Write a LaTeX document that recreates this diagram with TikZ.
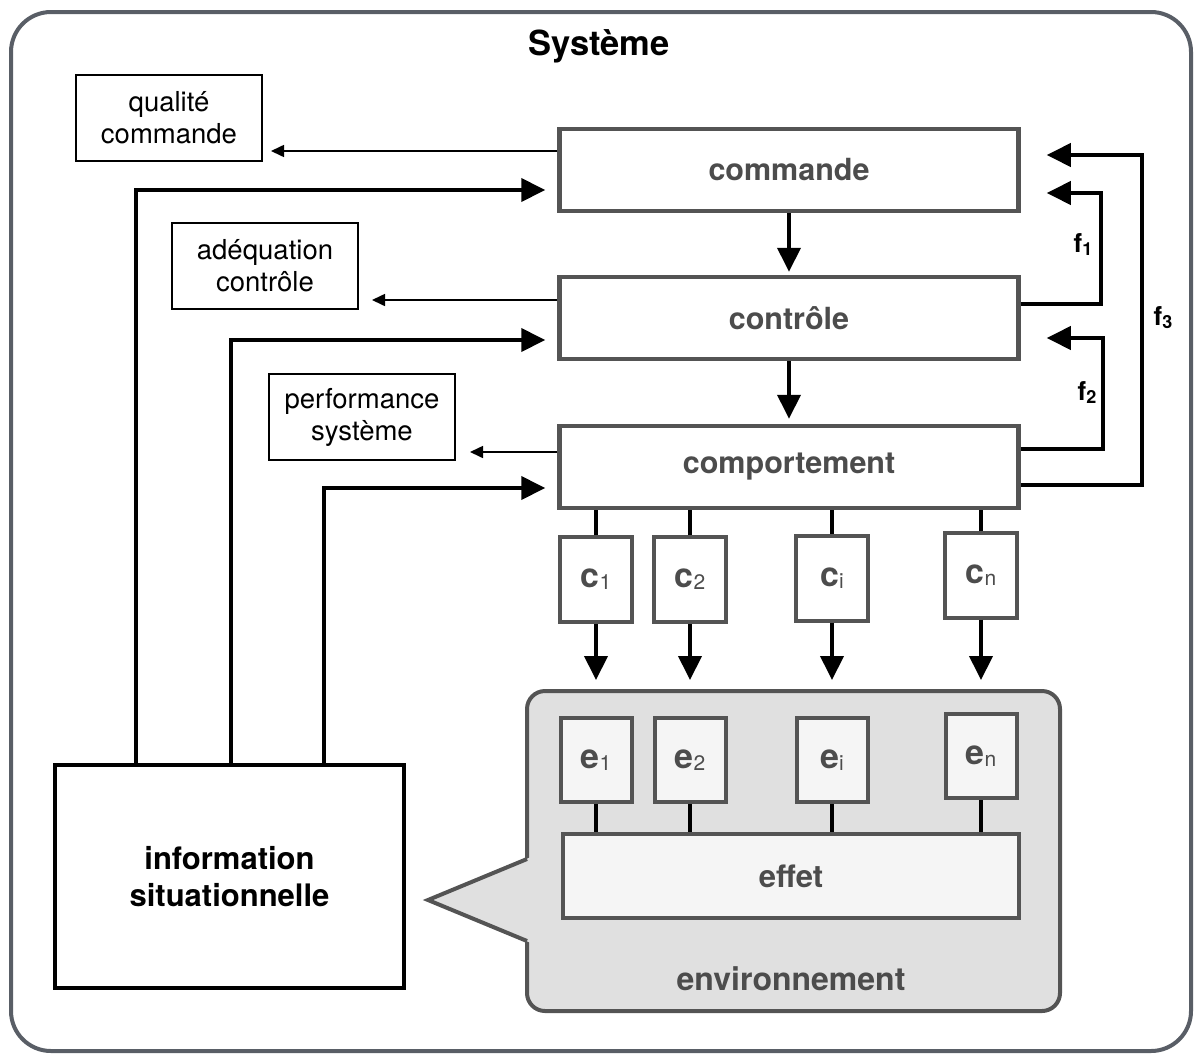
\documentclass[tikz,border=0pt]{standalone}
\usepackage{fontspec}
\setmainfont{TeX Gyre Heros}
\usepackage{tikz}
\usetikzlibrary{arrows.meta}
\definecolor{zzzzzz}{rgb}{0.33,0.33,0.33}
\definecolor{tftftf}{rgb}{0.30,0.30,0.30}
\definecolor{gqgqgq}{rgb}{0.88,0.88,0.88}
\definecolor{hzhzhz}{rgb}{0.96,0.96,0.96}
\definecolor{zazhuu}{rgb}{0.35,0.37,0.40}
\newcommand{\fsz}[1]{\fontsize{#1}{#1}\selectfont}
\newcommand{\idx}[1]{\raisebox{-2pt}{\fsz{21}\mdseries #1}}
\newcommand{\fidx}[1]{\raisebox{-3pt}{\fsz{18}\bfseries #1}}

\begin{document}
\begin{tikzpicture}[line cap=butt,line join=miter,x=1pt,y=-1pt,
  bigbox/.style={draw=zzzzzz,line width=4.5pt,fill=white,minimum width=459pt,minimum height=82pt,inner sep=0pt,text=tftftf,font=\fsz{30.5}\bfseries},
  smallbox/.style={draw=zzzzzz,line width=4pt,minimum width=71pt,minimum height=84pt,inner sep=0pt,text=tftftf,font=\fsz{34}\bfseries},
  notebox/.style={draw=black,line width=2pt,minimum width=186pt,minimum height=86pt,inner sep=0pt,align=center,font=\fontsize{27.5}{32}\selectfont},
  flabel/.style={font=\fsz{26}\bfseries},
  thickarr/.style={line width=4pt,-{Triangle[length=24pt,width=23pt]}},
  thinarr/.style={line width=1.6pt,-{Triangle[length=13pt,width=12pt]}},
  thickline/.style={line width=4pt}]

\useasboundingbox (0,0) rectangle (1198,1055);
\draw[zazhuu,line width=4pt,rounded corners=40pt] (11,12) rectangle (1191,1051);
\node[font=\fsz{34.5}\bfseries] (sys) at (599,46) {Système};

\node[bigbox] (cmd) at (789,170) {commande};
\node[bigbox] (ctl) at (789,318) {contrôle};
\node[bigbox] (cmp) at (789,467) {comportement};

\node[notebox] (qc) at (169,118) {qualité\\commande};
\node[notebox] (ac) at (265,266) {adéquation\\contrôle};
\node[notebox] (ps) at (362,417) {performance\\système};

\node[draw,line width=4.5pt,minimum width=349pt,minimum height=223pt,inner sep=0pt,align=center,font=\fontsize{31}{37}\selectfont\bfseries] (info) at (229.5,876.5) {information\\situationnelle};

\draw[draw=zzzzzz,fill=gqgqgq,line width=4pt,rounded corners=18pt] (527,691) coordinate (envnw) rectangle (1060,1011);
\fill[gqgqgq] (531,857) -- (428,900) -- (531,943) -- cycle;
\draw[zzzzzz,line width=4pt] (527,859) -- (428,900) -- (527,941);
\node[font=\fsz{32}\bfseries,text=tftftf] (envlbl) at (791,979) {environnement};

\node[smallbox,fill=white,minimum width=72pt,minimum height=85pt] (c1) at (596,579.5) {c\idx{1}};
\node[smallbox,fill=white,minimum width=72pt,minimum height=85pt] (c2) at (690,579.5) {c\idx{2}};
\node[smallbox,fill=white,minimum width=72pt,minimum height=85pt] (ci) at (832,578) {c\idx{i}};
\node[smallbox,fill=white,minimum width=72pt,minimum height=85pt] (cn) at (981,575) {c\idx{n}};

\node[smallbox,fill=hzhzhz] (e1) at (596,760) {e\idx{1}};
\node[smallbox,fill=hzhzhz] (e2) at (690,760) {e\idx{2}};
\node[smallbox,fill=hzhzhz] (ei) at (832,760) {e\idx{i}};
\node[smallbox,fill=hzhzhz] (en) at (981,756) {e\idx{n}};
\node[smallbox,fill=hzhzhz,minimum width=456pt,font=\fsz{31}\bfseries] (effet) at (791,876) {effet};

\draw[thickarr,shorten >=3pt] (cmd) -- (ctl);
\draw[thickarr,shorten >=5pt] (ctl) -- (cmp);

\coordinate (cmdq) at ([yshift=19pt]cmd.west);
\coordinate (ctlq) at ([yshift=18pt]ctl.west);
\coordinate (cmpq) at ([yshift=15pt]cmp.west);
\draw[thinarr,shorten >=8pt] (cmdq) -- (cmdq -| qc.east);
\draw[thinarr,shorten >=13pt] (ctlq) -- (ctlq -| ac.east);
\draw[thinarr,shorten >=14pt] (cmpq) -- (cmpq -| ps.east);

\draw[thickarr,shorten >=12pt] ([xshift=-93.5pt]info.north) |- ([yshift=-20pt]cmd.west);
\draw[thickarr,shorten >=12pt] ([xshift=1.5pt]info.north) |- ([yshift=-22pt]ctl.west);
\draw[thickarr,shorten >=12pt] ([xshift=94.5pt]info.north) |- ([yshift=-21pt]cmp.west);

\draw[thickarr,shorten >=26pt] ([yshift=14pt]ctl.east) -- ++(80,0) |- ([yshift=-23pt]cmd.east);
\draw[thickarr,shorten >=26pt] ([yshift=18pt]cmp.east) -- ++(82,0) |- ([yshift=-20pt]ctl.east);
\draw[thickarr,shorten >=26pt] ([yshift=-18pt]cmp.east) -- ++(121,0) |- ([yshift=15pt]cmd.east);
\node[flabel] (f1) at (1083,245) {f\fidx{1}};
\node[flabel] (f2) at (1087,393) {f\fidx{2}};
\node[flabel] (f3) at (1163,318) {f\fidx{3}};

\draw[thickline] (c1) -- (c1 |- cmp.south);
\draw[thickline] (c2) -- (c2 |- cmp.south);
\draw[thickline] (ci) -- (ci |- cmp.south);
\draw[thickline] (cn) -- (cn |- cmp.south);
\draw[thickarr,shorten >=11pt] (c1) -- (c1 |- envnw);
\draw[thickarr,shorten >=11pt] (c2) -- (c2 |- envnw);
\draw[thickarr,shorten >=11pt] (ci) -- (ci |- envnw);
\draw[thickarr,shorten >=11pt] (cn) -- (cn |- envnw);

\draw[thickline] (e1) -- (e1 |- effet.north);
\draw[thickline] (e2) -- (e2 |- effet.north);
\draw[thickline] (ei) -- (ei |- effet.north);
\draw[thickline] (en) -- (en |- effet.north);
\end{tikzpicture}
\end{document}
